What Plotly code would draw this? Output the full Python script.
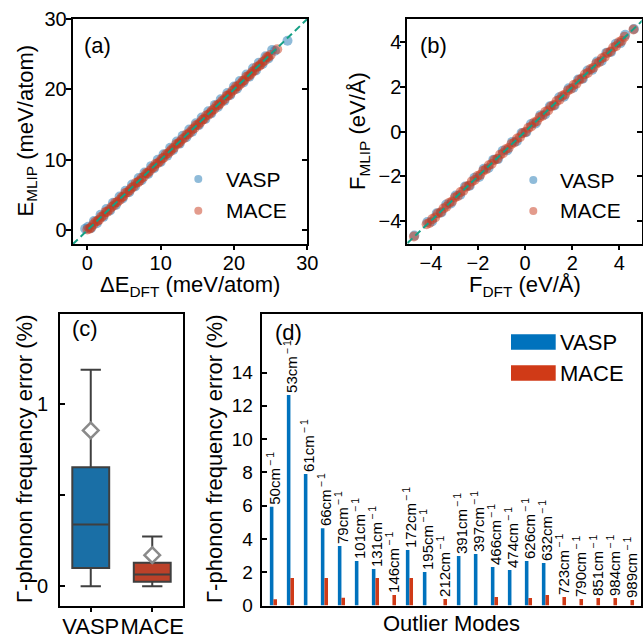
import plotly.graph_objects as go

# ---------------- (a) energies, meV/atom ----------------
vasp_e_dft = [-0.3, 0.1, 0.5, 0.9, 1.3, 1.8, 2.2, 2.6, 3.1, 3.5, 3.9, 4.4, 4.8, 5.2, 5.7,
              6.1, 6.5, 7.0, 7.4, 7.8, 8.3, 8.7, 9.1, 9.6, 10.0, 10.4, 10.9, 11.3, 11.7,
              12.2, 12.6, 13.0, 13.5, 13.9, 14.3, 14.8, 15.2, 15.6, 16.1, 16.5, 16.9, 17.4,
              17.8, 18.2, 18.7, 19.1, 19.5, 20.0, 20.4, 20.8, 21.3, 21.7, 22.1, 22.6, 23.0,
              23.4, 23.9, 24.3, 24.7, 25.2, 25.6, 27.3]
vasp_e_mlip = [0.2, 0.5, 0.3, 1.3, 1.0, 2.2, 1.9, 3.0, 2.8, 3.9, 3.6, 4.8, 4.5, 5.6, 5.4,
               6.5, 6.2, 7.4, 7.1, 8.2, 8.0, 9.1, 8.8, 10.0, 9.7, 10.8, 10.6, 11.7, 11.4,
               12.6, 12.3, 13.4, 13.2, 14.3, 14.0, 15.2, 14.9, 16.0, 15.8, 16.9, 16.6, 17.8,
               17.5, 18.6, 18.4, 19.5, 19.2, 20.4, 20.1, 21.2, 21.0, 22.1, 21.8, 23.0, 22.7,
               23.8, 23.6, 24.7, 24.4, 25.6, 25.5, 26.9]
mace_e_dft = [0.0, 0.3, 0.5, 0.8, 1.1, 1.4, 1.6, 1.9, 2.2, 2.5, 2.7, 3.0, 3.3, 3.6, 3.8,
              4.1, 4.4, 4.7, 4.9, 5.2, 5.5, 5.8, 6.0, 6.3, 6.6, 6.9, 7.1, 7.4, 7.7, 8.0,
              8.2, 8.5, 8.8, 9.1, 9.3, 9.6, 9.9, 10.2, 10.4, 10.7, 11.0, 11.3, 11.5, 11.8,
              12.1, 12.4, 12.6, 12.9, 13.2, 13.5, 13.7, 14.0, 14.3, 14.6, 14.8, 15.1, 15.4,
              15.7, 15.9, 16.2, 16.5, 16.8, 17.0, 17.3, 17.6, 17.9, 18.1, 18.4, 18.7, 19.0,
              19.2, 19.5, 19.8, 20.1, 20.3, 20.6, 20.9, 21.2, 21.4, 21.7, 22.0, 22.3, 22.5,
              22.8, 23.1, 23.4, 23.6, 23.9, 24.2, 24.5, 24.7, 25.0, 25.9]
mace_e_mlip = [0.1, 0.2, 0.4, 0.8, 1.2, 1.3, 1.5, 1.9, 2.1, 2.6, 2.6, 2.9, 3.3, 3.5, 3.9,
               4.0, 4.3, 4.7, 4.8, 5.3, 5.4, 5.7, 6.0, 6.2, 6.7, 6.8, 7.0, 7.4, 7.6, 8.1,
               8.1, 8.4, 8.8, 9.0, 9.4, 9.5, 9.8, 10.2, 10.3, 10.8, 10.9, 11.2, 11.5, 11.7,
               12.2, 12.3, 12.5, 12.9, 13.1, 13.6, 13.6, 13.9, 14.3, 14.5, 14.9, 15.0, 15.3,
               15.7, 15.8, 16.3, 16.4, 16.7, 17.0, 17.2, 17.7, 17.8, 18.0, 18.4, 18.6, 19.1,
               19.1, 19.4, 19.8, 20.0, 20.4, 20.5, 20.8, 21.2, 21.3, 21.8, 21.9, 22.2, 22.5,
               22.7, 23.2, 23.3, 23.5, 23.9, 24.1, 24.6, 24.6, 24.9, 25.7]
energy_diag = [-2, 30]

# ---------------- (b) forces, eV/Å ----------------
vasp_f_dft = [-4.70, -4.15, -3.95, -3.75, -3.55, -3.35, -3.15, -2.95, -2.75, -2.55, -2.35,
              -2.15, -1.95, -1.75, -1.55, -1.35, -1.15, -0.95, -0.75, -0.55, -0.35, -0.15,
              0.05, 0.25, 0.45, 0.65, 0.85, 1.05, 1.25, 1.45, 1.65, 1.85, 2.05, 2.25, 2.45,
              2.65, 2.85, 3.05, 3.25, 3.45, 3.65, 3.85, 4.05, 4.25, 4.62]
vasp_f_mlip = [-4.66, -4.05, -4.03, -3.66, -3.62, -3.27, -3.22, -2.86, -2.83, -2.46, -2.42,
               -2.07, -2.03, -1.66, -1.63, -1.26, -1.23, -0.86, -0.83, -0.46, -0.43, -0.06,
               -0.03, 0.34, 0.37, 0.74, 0.77, 1.14, 1.17, 1.54, 1.57, 1.94, 1.97, 2.34, 2.37,
               2.74, 2.77, 3.14, 3.17, 3.54, 3.57, 3.94, 3.97, 4.34, 4.60]
mace_f_dft = [-4.72, -4.18, -4.06, -3.94, -3.82, -3.70, -3.58, -3.46, -3.34, -3.22, -3.10,
              -2.98, -2.86, -2.74, -2.62, -2.50, -2.38, -2.26, -2.14, -2.02, -1.90, -1.78,
              -1.66, -1.54, -1.42, -1.30, -1.18, -1.06, -0.94, -0.82, -0.70, -0.58, -0.46,
              -0.34, -0.22, -0.10, 0.02, 0.14, 0.26, 0.38, 0.50, 0.62, 0.74, 0.86, 0.98,
              1.10, 1.22, 1.34, 1.46, 1.58, 1.70, 1.82, 1.94, 2.06, 2.18, 2.30, 2.42, 2.54,
              2.66, 2.78, 2.90, 3.02, 3.14, 3.26, 3.38, 3.50, 3.62, 3.74, 3.86, 3.98, 4.10,
              4.22, 4.60]
mace_f_mlip = [-4.70, -4.15, -4.09, -3.92, -3.85, -3.67, -3.61, -3.44, -3.37, -3.19, -3.13,
               -2.95, -2.89, -2.71, -2.65, -2.47, -2.41, -2.23, -2.17, -1.99, -1.93, -1.75,
               -1.69, -1.51, -1.45, -1.27, -1.21, -1.03, -0.97, -0.79, -0.73, -0.55, -0.49,
               -0.31, -0.25, -0.07, -0.01, 0.17, 0.23, 0.41, 0.47, 0.65, 0.71, 0.89, 0.95,
               1.13, 1.19, 1.37, 1.43, 1.61, 1.67, 1.85, 1.91, 2.09, 2.15, 2.33, 2.39, 2.57,
               2.63, 2.81, 2.87, 3.05, 3.11, 3.29, 3.35, 3.53, 3.59, 3.77, 3.83, 4.01, 4.07,
               4.25, 4.58]
force_diag = [-5, 5]

# ---------------- (c) Γ-phonon error distribution, % ----------------
box_models = ["VASP", "MACE"]
box_pos = [1, 2]
box_q1 = [0.10, 0.024]
box_median = [0.34, 0.065]
box_q3 = [0.655, 0.129]
box_low = [0.0, 0.0]
box_high = [1.19, 0.274]
box_mean = [0.857, 0.171]

# ---------------- (d) outlier modes, % ----------------
mode_freqs = [50, 53, 61, 66, 79, 101, 131, 146, 172, 195, 212,
              391, 397, 466, 474, 626, 632, 723, 790, 851, 984, 989]
vasp_err = [5.93, 12.65, 7.90, 4.65, 3.57, 2.67, 2.19, 0.0, 3.33, 2.01, 0.0,
            2.97, 3.09, 2.31, 2.13, 2.67, 2.55, 0.0, 0.0, 0.0, 0.0, 0.0]
mace_err = [0.37, 1.65, 0.0, 1.65, 0.47, 0.0, 1.65, 0.63, 1.65, 0.0, 0.39,
            0.0, 0.0, 0.51, 0.0, 0.45, 0.63, 0.51, 0.39, 0.45, 0.45, 0.33]

# ---------------- styling ----------------
FONT = "Liberation Sans, Arial, Helvetica, sans-serif"
SC_BLUE = "#1f77b4"
SC_RED = "#c8381a"
DIAG = "#16a085"
BAR_BLUE = "#0072bd"
BAR_RED = "#d03a17"
BOX_FILL = ["#1a6fa6", "#bb4129"]
BOX_LINE = "#3f3f3f"
MEAN_LINE = "#8a8a8a"
W, H = 643, 634
MSIZE = 10


def px_x(p):
    return p / W


def px_y(p):
    return 1 - p / H


fig = go.Figure()

# (a) energy parity
fig.add_trace(go.Scatter(x=vasp_e_dft, y=vasp_e_mlip, mode="markers", name="VASP",
                         marker=dict(size=MSIZE, color=SC_BLUE, opacity=0.5, line=dict(width=0)),
                         xaxis="x", yaxis="y", showlegend=False))
fig.add_trace(go.Scatter(x=mace_e_dft, y=mace_e_mlip, mode="markers", name="MACE",
                         marker=dict(size=MSIZE, color=SC_RED, opacity=0.5, line=dict(width=0)),
                         xaxis="x", yaxis="y", showlegend=False))
fig.add_trace(go.Scatter(x=energy_diag, y=energy_diag, mode="lines",
                         line=dict(color=DIAG, width=2, dash="7px,4px"),
                         xaxis="x", yaxis="y", showlegend=False, hoverinfo="skip"))

# (b) force parity
fig.add_trace(go.Scatter(x=vasp_f_dft, y=vasp_f_mlip, mode="markers", name="VASP",
                         marker=dict(size=MSIZE, color=SC_BLUE, opacity=0.5, line=dict(width=0)),
                         xaxis="x2", yaxis="y2", showlegend=False))
fig.add_trace(go.Scatter(x=mace_f_dft, y=mace_f_mlip, mode="markers", name="MACE",
                         marker=dict(size=MSIZE, color=SC_RED, opacity=0.5, line=dict(width=0)),
                         xaxis="x2", yaxis="y2", showlegend=False))
fig.add_trace(go.Scatter(x=force_diag, y=force_diag, mode="lines",
                         line=dict(color=DIAG, width=2, dash="7px,4px"),
                         xaxis="x2", yaxis="y2", showlegend=False, hoverinfo="skip"))

# empty traces carrying the inner right-hand tick axes of (a) and (b)
fig.add_trace(go.Scatter(x=[], y=[], xaxis="x", yaxis="y5", showlegend=False))
fig.add_trace(go.Scatter(x=[], y=[], xaxis="x2", yaxis="y6", showlegend=False))

# (c) box plots with mean markers
for i, name in enumerate(box_models):
    fig.add_trace(go.Box(x=[box_pos[i]], q1=[box_q1[i]], median=[box_median[i]],
                         q3=[box_q3[i]], lowerfence=[box_low[i]], upperfence=[box_high[i]],
                         name=name, width=0.6, whiskerwidth=0.55, boxpoints=False,
                         fillcolor=BOX_FILL[i], line=dict(color=BOX_LINE, width=2),
                         xaxis="x3", yaxis="y3", showlegend=False))
fig.add_trace(go.Scatter(x=box_pos, y=box_mean, mode="markers",
                         marker=dict(symbol="diamond", size=12, color="white",
                                     line=dict(color=MEAN_LINE, width=2.5)),
                         xaxis="x3", yaxis="y3", showlegend=False))

# (d) outlier-mode bars
mode_idx = list(range(len(mode_freqs)))
fig.add_trace(go.Bar(x=mode_idx, y=vasp_err, name="VASP", offset=-0.21, width=0.21,
                     marker=dict(color=BAR_BLUE, line=dict(width=0)),
                     xaxis="x4", yaxis="y4", showlegend=False))
fig.add_trace(go.Bar(x=mode_idx, y=mace_err, name="MACE", offset=0.0, width=0.21,
                     marker=dict(color=BAR_RED, line=dict(width=0)),
                     xaxis="x4", yaxis="y4", showlegend=False))

annotations = []
for i, f in enumerate(mode_freqs):
    annotations.append(dict(x=i, y=max(vasp_err[i], mace_err[i]), xref="x4", yref="y4",
                            text=f"{f}cm<sup>\u2009\u2212\u20091</sup>", textangle=-90,
                            showarrow=False, xanchor="center", yanchor="bottom", yshift=0,
                            font=dict(family=FONT, size=15, color="black")))

# axes
frame = dict(showline=True, linecolor="black", linewidth=2, mirror=True, showgrid=False,
             zeroline=False, tickcolor="black", tickwidth=1.5, automargin=False, tickangle=0,
             tickfont=dict(family=FONT, size=20, color="black"))
plain = dict(automargin=False, showgrid=False, zeroline=False, showticklabels=False,
             ticks="inside", ticklen=5, tickwidth=1.5, tickcolor="black")

dom_a_x = [px_x(72.7), px_x(307.3)]
dom_b_x = [px_x(407.3), px_x(641.7)]
dom_ab_y = [px_y(244.3), px_y(19)]
dom_c_x = [px_x(60), px_x(183)]
dom_d_x = [px_x(261.7), px_x(641)]
dom_cd_y = [px_y(605.5), px_y(313.5)]

fig.update_layout(
    xaxis=dict(frame, domain=dom_a_x, anchor="y", range=[-2, 30], tickvals=[0, 10, 20, 30],
               ticks="outside", ticklen=4, ticklabelstandoff=-4),
    yaxis=dict(frame, domain=dom_ab_y, anchor="x", range=[-2, 30], tickvals=[0, 10, 20, 30],
               ticks="outside", ticklen=5, ticklabelstandoff=-5),
    yaxis5=dict(plain, domain=dom_ab_y, anchor="x", overlaying="y", side="right",
                range=[-2, 30], tickvals=[0, 10, 20, 30]),
    xaxis2=dict(frame, domain=dom_b_x, anchor="y2", range=[-5, 4.95], tickvals=[-4, -2, 0, 2, 4],
                ticktext=["\u22124", "\u22122", "0", "2", "4"],
                ticks="outside", ticklen=4, ticklabelstandoff=-4),
    yaxis2=dict(frame, domain=dom_ab_y, anchor="x2", range=[-5.05, 5.05],
                tickvals=[-4, -2, 0, 2, 4], ticktext=["\u22124", "\u22122", "0", "2", "4"],
                ticks="outside", ticklen=5, ticklabelstandoff=-5),
    yaxis6=dict(plain, domain=dom_ab_y, anchor="x2", overlaying="y2", side="right",
                range=[-5.05, 5.05], tickvals=[-4, -2, 0, 2, 4]),
    xaxis3=dict(frame, domain=dom_c_x, anchor="y3", range=[0.5, 2.5], tickvals=box_pos,
                ticktext=box_models, ticks="outside", ticklen=4, ticklabelstandoff=-4,
                tickfont=dict(family=FONT, size=22, color="black")),
    yaxis3=dict(frame, domain=dom_cd_y, anchor="x3", range=[-0.106, 1.5],
                tickvals=[0, 0.5, 1], ticktext=["0", "", "1"], ticks="inside", ticklen=5,
                ticklabelstandoff=6),
    xaxis4=dict(frame, domain=dom_d_x, anchor="y4", range=[-0.69, 21.62], showticklabels=False,
                ticks=""),
    yaxis4=dict(frame, domain=dom_cd_y, anchor="x4", range=[0, 17.55],
                tickvals=[0, 2, 4, 6, 8, 10, 12, 14], ticks="inside", ticklen=5,
                ticklabelstandoff=3, tickfont=dict(family=FONT, size=19, color="black")),
    barmode="overlay",
    width=W, height=H, margin=dict(l=0, r=0, t=0, b=0, autoexpand=False),
    paper_bgcolor="white", plot_bgcolor="white",
    font=dict(family=FONT, color="black"),
)


def label(text, x, y, size=22, angle=0, xanchor="center", yanchor="middle"):
    annotations.append(dict(text=text, x=px_x(x), y=px_y(y), xref="paper", yref="paper",
                            showarrow=False, textangle=angle, xanchor=xanchor, yanchor=yanchor,
                            font=dict(family=FONT, size=size, color="black")))


# panel tags
label("(a)", 82, 45, xanchor="left")
label("(b)", 418, 45, xanchor="left")
label("(c)", 70, 328, xanchor="left")
label("(d)", 273, 332, xanchor="left")

# axis titles
label("\u0394E<sub>DFT</sub> (meV/atom)", 190, 286)
label("E<sub>MLIP</sub> (meV/atom)", 26.5, 131, angle=-90)
label("F<sub>DFT</sub> (eV/\u00c5)", 524.5, 286)
label("F<sub>MLIP</sub> (eV/\u00c5)", 359, 131, angle=-90)
label("\u0393-phonon frequency error (%)", 24, 459, angle=-90)
label("\u0393-phonon frequency error (%)", 214, 459, angle=-90)
label("Outlier Modes", 451, 623)

# legends of the parity panels
shapes = []
for (mx, tx), rows in [((198.3, 224), [(179, "VASP", SC_BLUE), (210.7, "MACE", SC_RED)]),
                       ((533.3, 558.3), [(180, "VASP", SC_BLUE), (211, "MACE", SC_RED)])]:
    for (yy, name, col) in rows:
        shapes.append(dict(type="circle", xref="paper", yref="paper", xsizemode="pixel",
                           ysizemode="pixel", xanchor=px_x(mx), yanchor=px_y(yy),
                           x0=-4, x1=4, y0=-4, y1=4, fillcolor=col, opacity=0.5,
                           line=dict(width=0)))
        label(name, tx, yy, size=21, xanchor="left")

# legend of the bar panel
for (yy, name, col) in [(342, "VASP", BAR_BLUE), (373, "MACE", BAR_RED)]:
    shapes.append(dict(type="rect", xref="paper", yref="paper", x0=px_x(511), x1=px_x(555.7),
                       y0=px_y(yy + 7.8), y1=px_y(yy - 7.8), fillcolor=col, line=dict(width=0)))
    label(name, 557.7, yy, size=22, xanchor="left")

fig.update_layout(annotations=annotations, shapes=shapes)

fig.write_html("out.html")
